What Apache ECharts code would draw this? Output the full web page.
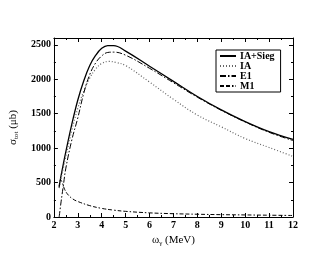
<!DOCTYPE html>
<html><head><meta charset="utf-8">
<script src="https://cdn.jsdelivr.net/npm/echarts@6/dist/echarts.min.js"></script>
<style>html,body{margin:0;padding:0;background:#fff}#c{width:330px;height:255px}</style>
</head><body><div id="c"></div>
<script>
var seriesNames = ['IA+Sieg', 'IA', 'E1', 'M1'];
var xTicks = [2, 3, 4, 5, 6, 7, 8, 9, 10, 11, 12];
var yTicks = [0, 500, 1000, 1500, 2000, 2500];

var xSieg = [2.22, 2.3, 2.4, 2.5, 2.75, 3.0, 3.25, 3.5, 3.75, 4.0, 4.25, 4.5, 5, 6, 7, 8, 9, 10, 11, 12];
var ySieg = [440, 600, 780, 950, 1350, 1700, 1980, 2200, 2350, 2450, 2490, 2490, 2410, 2190, 1970, 1750, 1556, 1386, 1240, 1128];

var xIA = [2.22, 2.3, 2.4, 2.5, 2.75, 3.0, 3.25, 3.5, 3.75, 4.0, 4.3, 4.6, 5, 6, 7, 8, 9, 10, 11, 12];
var yIA = [420, 560, 720, 880, 1260, 1580, 1830, 2020, 2150, 2230, 2260, 2245, 2200, 1960, 1710, 1480, 1310, 1140, 1010, 880];

var xE1 = [2.22, 2.3, 2.4, 2.5, 2.75, 3.0, 3.25, 3.5, 3.75, 4.0, 4.25, 4.5, 5, 6, 7, 8, 9, 10, 11, 12];
var yE1 = [0, 220, 470, 710, 1120, 1440, 1800, 2070, 2240, 2340, 2390, 2395, 2350, 2160, 1950, 1740, 1550, 1380, 1230, 1110];

var xM1 = [2.22, 2.28, 2.35, 2.45, 2.6, 2.8, 3.0, 3.5, 4.0, 4.5, 5, 6, 7, 8, 9, 10, 11, 12];
var yM1 = [430, 540, 500, 400, 320, 260, 225, 165, 125, 100, 82, 60, 48, 40, 34, 30, 26, 22];

function pairs(xs, ys) { return xs.map(function (x, i) { return [x, ys[i]]; }); }

var font = 'Liberation Serif';
var chart = echarts.init(document.getElementById('c'), null, {renderer: 'canvas'});
var axisBase = {
  axisLine: {show: true, onZero: false, lineStyle: {color: '#000', width: 1}},
  axisTick: {show: true, inside: true, length: 4, lineStyle: {color: '#000'}},
  minorTick: {show: true, splitNumber: 2, length: 2, lineStyle: {color: '#000'}},
  splitLine: {show: false}
};
var option = {
  animation: false,
  grid: {left: 38, right: 37, top: 38, bottom: 38, containLabel: false},
  xAxis: [
    Object.assign({}, axisBase, {
      type: 'value', min: 2, max: 12, interval: 1, position: 'bottom',
      axisLabel: {color: '#000', fontFamily: font, fontWeight: 'bold', fontSize: 10, margin: 3,
        formatter: function (v) { return xTicks.indexOf(v) >= 0 ? String(v) : ''; }},
      name: '{a|ω}{s|γ}{a| (MeV)}', nameLocation: 'middle', nameGap: 11,
      nameTextStyle: {rich: {a: {fontFamily: font, fontSize: 11, color: '#000'},
        s: {fontFamily: font, fontSize: 7, color: '#000', padding: [6, 0, 0, 0]}}}
    }),
    Object.assign({}, axisBase, {
      type: 'value', min: 2, max: 12, interval: 1, position: 'top',
      axisLabel: {show: false}
    })
  ],
  yAxis: [
    Object.assign({}, axisBase, {
      type: 'value', min: 0, max: 2600, interval: 500, position: 'left',
      axisLabel: {color: '#000', fontFamily: font, fontWeight: 'bold', fontSize: 10, margin: 3, showMaxLabel: false,
        formatter: function (v) { return yTicks.indexOf(v) >= 0 ? String(v) : ''; }},
      name: '{a|σ}{s|tot}{a| (μb)}', nameLocation: 'middle', nameGap: 24, nameRotate: 90,
      nameTextStyle: {rich: {a: {fontFamily: font, fontSize: 11, color: '#000'},
        s: {fontFamily: font, fontSize: 7, color: '#000', padding: [6, 0, 0, 0]}}}
    }),
    Object.assign({}, axisBase, {
      type: 'value', min: 0, max: 2600, interval: 500, position: 'right',
      axisLabel: {show: false}
    })
  ],
  legend: {
    show: true, left: 216, top: 50, orient: 'vertical',
    data: seriesNames,
    itemWidth: 16, itemHeight: 8, itemGap: 0,
    itemStyle: {color: 'transparent', borderWidth: 0, opacity: 0},
    borderColor: '#000', borderWidth: 1, padding: [1, 6, 1, 3],
    textStyle: {fontFamily: font, fontWeight: 'bold', fontSize: 10, lineHeight: 10, color: '#000', padding: [0, 0, 0, -1]},
    backgroundColor: '#fff'
  },
  series: [
    {name: 'IA+Sieg', type: 'line', smooth: 0.4, symbol: 'none', data: pairs(xSieg, ySieg),
      lineStyle: {color: '#000', width: 1.3, type: 'solid'}},
    {name: 'IA', type: 'line', smooth: 0.4, symbol: 'none', data: pairs(xIA, yIA),
      lineStyle: {color: '#666', width: 1.2, type: [1, 2]}},
    {name: 'E1', type: 'line', smooth: 0.4, symbol: 'none', data: pairs(xE1, yE1),
      lineStyle: {color: '#000', width: 1, type: [6, 2, 1.5, 2]}},
    {name: 'M1', type: 'line', smooth: 0.4, symbol: 'none', data: pairs(xM1, yM1),
      lineStyle: {color: '#000', width: 1, type: [4, 2, 4, 2, 1.5, 2]}}
  ]
};
chart.setOption(option);
</script></body></html>
